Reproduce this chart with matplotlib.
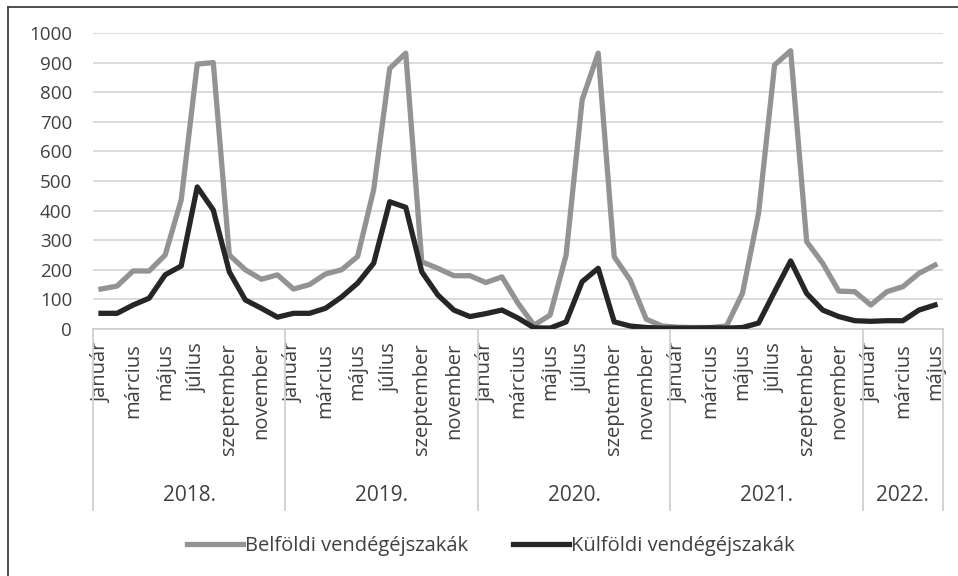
import matplotlib.pyplot as plt
from matplotlib.lines import Line2D

# havi vendégéjszakák, 2018. január - 2022. május
months = ["január", "február", "március", "április", "május", "június",
          "július", "augusztus", "szeptember", "október", "november", "december"]
years = ["2018.", "2019.", "2020.", "2021.", "2022."]
months_per_year = [12, 12, 12, 12, 5]

belfoldi = [135, 145, 196, 196, 250, 436, 895, 900, 250, 200, 168, 183,
            135, 150, 186, 200, 245, 470, 880, 932, 227, 205, 180, 180,
            157, 176, 87, 13, 47, 250, 774, 932, 244, 165, 33, 10,
            6, 5, 5, 10, 121, 391, 892, 940, 295, 222, 128, 126,
            81, 126, 143, 188, 216]
kulfoldi = [53, 53, 81, 104, 183, 213, 480, 402, 193, 98, 70, 40,
            53, 53, 70, 108, 155, 222, 430, 411, 193, 115, 64, 42,
            52, 64, 37, 4, 3, 24, 160, 205, 24, 10, 5, 3,
            3, 3, 4, 3, 5, 20, 126, 230, 120, 64, 42, 28,
            26, 28, 28, 64, 81]

labels = []
for n in months_per_year:
    labels += months[:n]
x = list(range(len(labels)))

txt = "#404040"
fig = plt.figure(figsize=(9.58, 5.76), dpi=100)
ax = fig.add_axes([93 / 958, 1 - 329 / 576, 850 / 958, 296 / 576])

ax.plot(x, belfoldi, color="#939393", lw=3.8, solid_joinstyle="round",
        label="Belföldi vendégéjszakák", zorder=3)
ax.plot(x, kulfoldi, color="#262626", lw=3.8, solid_joinstyle="round",
        label="Külföldi vendégéjszakák", zorder=4)

ax.set_xlim(-0.5, len(x) - 0.5)
ax.set_ylim(0, 1000)
ax.set_yticks(range(0, 1001, 100))
ax.yaxis.grid(True, color="#d9d9d9", lw=1.3)
ax.set_axisbelow(True)
for s in ax.spines.values():
    s.set_visible(False)
ax.tick_params(axis="y", length=0, pad=15, labelsize=13.5, labelcolor=txt)
for t in ax.get_yticklabels():
    t.set_fontfamily("Open Sans")

# every other month shown
ax.set_xticks(x[::2])
ax.set_xticklabels(labels[::2], rotation=90, fontsize=14.5, color=txt,
                   fontfamily="Open Sans")
ax.tick_params(axis="x", length=0, pad=10)

# year groups
tr = ax.get_xaxis_transform()
ax.plot([-0.5, len(x) - 0.5], [0, 0], transform=tr, color="#d0d0d0", lw=1.3,
        clip_on=False, zorder=2)
start = 0
bounds = [-0.5]
for y, n in zip(years, months_per_year):
    ax.text(start + (n - 1) / 2, -0.561, y, transform=tr, ha="center", va="center",
            fontsize=15, color=txt, fontfamily="Open Sans")
    start += n
    bounds.append(start - 0.5)
for b in bounds:
    ax.plot([b, b], [0, -0.611], transform=tr, color="#d0d0d0", lw=1.3, clip_on=False)

fig.legend(loc="center", bbox_to_anchor=(491 / 958, 1 - 546 / 576), ncol=2,
           frameon=False, handlelength=2.8, handletextpad=0.1, columnspacing=2.2,
           prop={"family": "Open Sans", "size": 14.5}, labelcolor=txt)

# outer frame (left and top only)
fig.add_artist(Line2D([8 / 958, 8 / 958], [0, 1 - 7 / 576], color="#404040", lw=1.3))
fig.add_artist(Line2D([8 / 958, 1], [1 - 7 / 576, 1 - 7 / 576], color="#404040", lw=1.3))

fig.savefig("out.png", dpi=100)
